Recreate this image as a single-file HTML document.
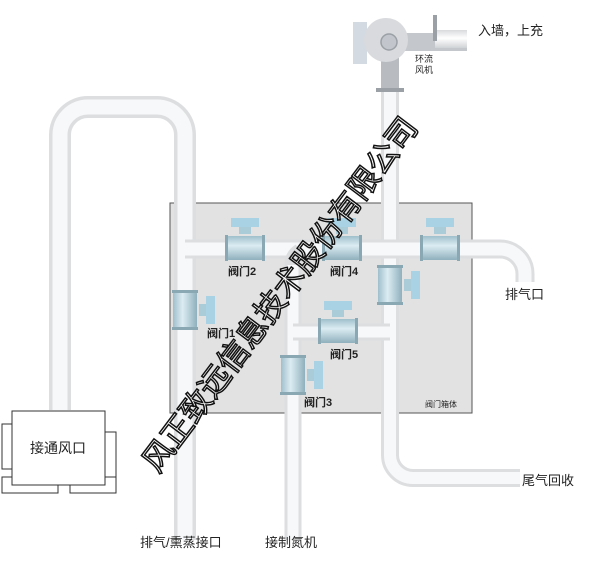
<!DOCTYPE html>
<html><head><meta charset="utf-8"><style>
body{margin:0;width:600px;height:567px;background:#fff;overflow:hidden;font-family:"Liberation Sans","Noto Sans CJK SC",sans-serif}
svg{position:absolute;left:0;top:0}
</style></head><body>
<svg width="600" height="567" viewBox="0 0 600 567">
<defs>
<linearGradient id="ph" x1="0" x2="0" y1="0" y2="1"><stop offset="0" stop-color="#d8dadc"/><stop offset=".45" stop-color="#ffffff"/><stop offset="1" stop-color="#d0d3d6"/></linearGradient>
<linearGradient id="vb" x1="0" x2="0" y1="0" y2="1"><stop offset="0" stop-color="#9fbfcc"/><stop offset=".4" stop-color="#dcecf2"/><stop offset="1" stop-color="#8fb0bd"/></linearGradient>
<linearGradient id="vbv" x1="0" x2="1" y1="0" y2="0"><stop offset="0" stop-color="#9fbfcc"/><stop offset=".4" stop-color="#dcecf2"/><stop offset="1" stop-color="#8fb0bd"/></linearGradient>
<g id="valveH"><rect x="-6" y="-22" width="12" height="8" fill="#aacbd8"/><rect x="-14" y="-30" width="28" height="9" fill="#a9d3e5"/><rect x="-18" y="-12" width="36" height="24" rx="2" fill="url(#vb)"/><rect x="-20" y="-13" width="3" height="26" fill="#8aa8b4"/><rect x="17" y="-13" width="3" height="26" fill="#8aa8b4"/></g>
<g id="valveV"><rect x="14" y="-6" width="8" height="12" fill="#aacbd8"/><rect x="21" y="-14" width="9" height="28" fill="#a9d3e5"/><rect x="-12" y="-18" width="24" height="36" rx="2" fill="url(#vbv)"/><rect x="-13" y="-20" width="26" height="3" fill="#8aa8b4"/><rect x="-13" y="17" width="26" height="3" fill="#8aa8b4"/></g>
</defs>
<rect x="170" y="203" width="302" height="210" fill="#e2e2e2" stroke="#555" stroke-width="1"/>
<g fill="none">
<path d="M60 410 V135 A28 28 0 0 1 88 107 H157 A28 28 0 0 1 185 135 V540" stroke="#dcdee0" stroke-width="22"/>
<path d="M60 410 V135 A28 28 0 0 1 88 107 H157 A28 28 0 0 1 185 135 V540" stroke="#f7f8f9" stroke-width="15"/>
<path d="M390 80 V455 A23 23 0 0 0 413 478 H520" stroke="#dcdee0" stroke-width="18"/>
<path d="M390 80 V455 A23 23 0 0 0 413 478 H520" stroke="#f7f8f9" stroke-width="12"/>
<path d="M185 249 H500 A25 25 0 0 1 525 274 V282" stroke="#dcdee0" stroke-width="19"/>
<path d="M185 249 H500 A25 25 0 0 1 525 274 V282" stroke="#f7f8f9" stroke-width="13"/>
<path d="M293 540 V265 A14 14 0 0 1 300 252" stroke="#dcdee0" stroke-width="17"/>
<path d="M293 540 V265" stroke="#f7f8f9" stroke-width="11"/>
<path d="M293 332 H390" stroke="#dcdee0" stroke-width="17"/>
<path d="M293 332 H390" stroke="#f7f8f9" stroke-width="11"/>
</g>
<use href="#valveH" x="245" y="248"/>
<use href="#valveH" x="342" y="248"/>
<use href="#valveH" x="440" y="248"/>
<use href="#valveH" x="338" y="331"/>
<use href="#valveV" x="185" y="310"/>
<use href="#valveV" x="390" y="285"/>
<use href="#valveV" x="293" y="375"/>
<path d="M390 42 H467" stroke="#c4c8cc" stroke-width="18"/>
<rect x="435" y="30" width="32" height="18" fill="url(#ph)"/>
<rect x="433" y="15" width="4" height="26" fill="#9aa0a6"/>
<rect x="353" y="22" width="14" height="42" fill="#d3dae2"/>
<rect x="381" y="42" width="18" height="48" fill="#b8bcc1"/>
<rect x="376" y="88" width="28" height="4" fill="#9aa0a6"/>
<circle cx="386" cy="40" r="22" fill="#d8dadd"/>
<circle cx="389" cy="42" r="8" fill="#c2c6cc" stroke="#9aa0a6" stroke-width="1.5"/>
<g fill="#fff" stroke="#333" stroke-width="1">
<rect x="2" y="424" width="10" height="45"/>
<rect x="105" y="432" width="11" height="45"/>
<rect x="2" y="477" width="56" height="16"/>
<rect x="70" y="477" width="46" height="16"/>
<rect x="12" y="411" width="93" height="74"/>
</g>
<g font-family="Liberation Sans, Noto Sans CJK SC, sans-serif" fill="#222">
<text x="58" y="453" font-size="14" text-anchor="middle">接通风口</text>
<text x="478" y="35" font-size="13">入墙，上充</text>
<text x="415" y="62" font-size="9">环流</text>
<text x="415" y="73" font-size="9">风机</text>
<text x="505" y="299" font-size="13">排气口</text>
<text x="522" y="485" font-size="13">尾气回收</text>
<text x="140" y="547" font-size="13">排气/熏蒸接口</text>
<text x="265" y="547" font-size="13">接制氮机</text>
<text x="425" y="407" font-size="8">阀门箱体</text>
<g font-size="11" font-weight="bold">
<text x="228" y="275">阀门2</text>
<text x="330" y="275">阀门4</text>
<text x="330" y="358">阀门5</text>
<text x="207" y="337">阀门1</text>
<text x="304" y="406">阀门3</text>
</g>
</g>
<text x="0" y="0" font-family="Liberation Sans, Noto Sans CJK SC, sans-serif" font-size="31" fill="#fff" stroke="#111" stroke-width="1.5" text-anchor="middle" dominant-baseline="middle" transform="translate(282,296) rotate(-53)">风正致远信息技术股份有限公司</text>
</svg>
</body></html>
